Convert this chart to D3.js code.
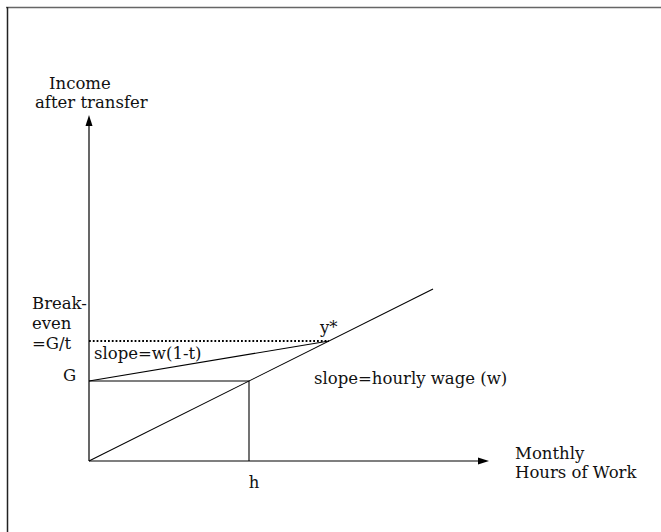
<!DOCTYPE html>
<html>
<head>
<meta charset="utf-8">
<script src="https://cdn.jsdelivr.net/npm/d3@7"></script>
<style>
  body { margin: 0; background: #fff; }
  text { font-family: "DejaVu Serif", serif; font-size: 16.5px; fill: #111; }
</style>
</head>
<body>
<div id="chart"></div>
<script>
// hours / income values of the diagram (wage w = 1, G = 40, t = 2/3)
var axisMax = [100, 173];             // x (hours), y (income)
var wageLine = [[0, 0], [86, 86]];    // earnings without transfer
var transferLine = [[0, 40], [60, 60]]; // income with transfer, slope w(1-t)
var breakevenLine = [[0, 60], [60, 60]];
var guideLines = [[0, 40], [40, 40], [40, 0]]; // G and h
var G = 40;
var h = 40;

var svgWidth = 661;
var svgHeight = 532;

var svg = d3.select("#chart")
  .append("svg")
  .attr("width", svgWidth)
  .attr("height", svgHeight);

// frame (only top and left edges visible)
svg.append("line")
  .attr("x1", 6).attr("y1", 7.5).attr("x2", svgWidth).attr("y2", 7.5)
  .attr("stroke", "#666").attr("stroke-width", 1.5);
svg.append("line")
  .attr("x1", 7.5).attr("y1", 7).attr("x2", 7.5).attr("y2", svgHeight)
  .attr("stroke", "#222").attr("stroke-width", 1.5);

var xScale = d3.scaleLinear().domain([0, axisMax[0]]).range([89, 489]);
var yScale = d3.scaleLinear().domain([0, axisMax[1]]).range([461, 115]);

var line = d3.line()
  .x(d => xScale(d[0]))
  .y(d => yScale(d[1]));

// axes with arrow heads
var x0 = xScale(0), y0 = yScale(0);
var xEnd = xScale(axisMax[0]), yEnd = yScale(axisMax[1]);

svg.append("line")
  .attr("x1", x0).attr("y1", y0).attr("x2", xEnd - 6).attr("y2", y0)
  .attr("stroke", "#000").attr("stroke-width", 1.2);
svg.append("line")
  .attr("x1", x0).attr("y1", y0).attr("x2", x0).attr("y2", yEnd + 6)
  .attr("stroke", "#000").attr("stroke-width", 1.2);

svg.append("path")
  .attr("d", `M${xEnd},${y0} L${xEnd - 11},${y0 - 3.5} L${xEnd - 11},${y0 + 3.5} Z`)
  .attr("fill", "#000");
svg.append("path")
  .attr("d", `M${x0},${yEnd} L${x0 - 3.5},${yEnd + 11} L${x0 + 3.5},${yEnd + 11} Z`)
  .attr("fill", "#000");

// lines
svg.append("path")
  .attr("d", line(wageLine))
  .attr("fill", "none").attr("stroke", "#000").attr("stroke-width", 1.1);

svg.append("path")
  .attr("d", line(transferLine))
  .attr("fill", "none").attr("stroke", "#000").attr("stroke-width", 1.1);

svg.append("path")
  .attr("d", line(guideLines))
  .attr("fill", "none").attr("stroke", "#000").attr("stroke-width", 1.1);

svg.append("path")
  .attr("d", line(breakevenLine))
  .attr("fill", "none").attr("stroke", "#000")
  .attr("stroke-width", 2).attr("stroke-dasharray", "1.8,2");

// labels
svg.append("text").attr("x", 49).attr("y", 89).text("Income");
svg.append("text").attr("x", 35).attr("y", 108).text("after transfer");

svg.append("text").attr("x", 32).attr("y", 309).text("Break-");
svg.append("text").attr("x", 32).attr("y", 329).text("even");
svg.append("text").attr("x", 32).attr("y", 349).text("=G/t");

svg.append("text").attr("x", 63).attr("y", yScale(G)).text("G");
svg.append("text").attr("x", 94).attr("y", 359).text("slope=w(1-t)");
svg.append("text").attr("x", 320).attr("y", 333).text("y*");
svg.append("text").attr("x", 314).attr("y", 384).text("slope=hourly wage (w)");

svg.append("text").attr("x", xScale(h)).attr("y", 488).attr("text-anchor", "middle").attr("dx", 5).text("h");

svg.append("text").attr("x", 515).attr("y", 459).text("Monthly");
svg.append("text").attr("x", 515).attr("y", 478).text("Hours of Work");
</script>
</body>
</html>
